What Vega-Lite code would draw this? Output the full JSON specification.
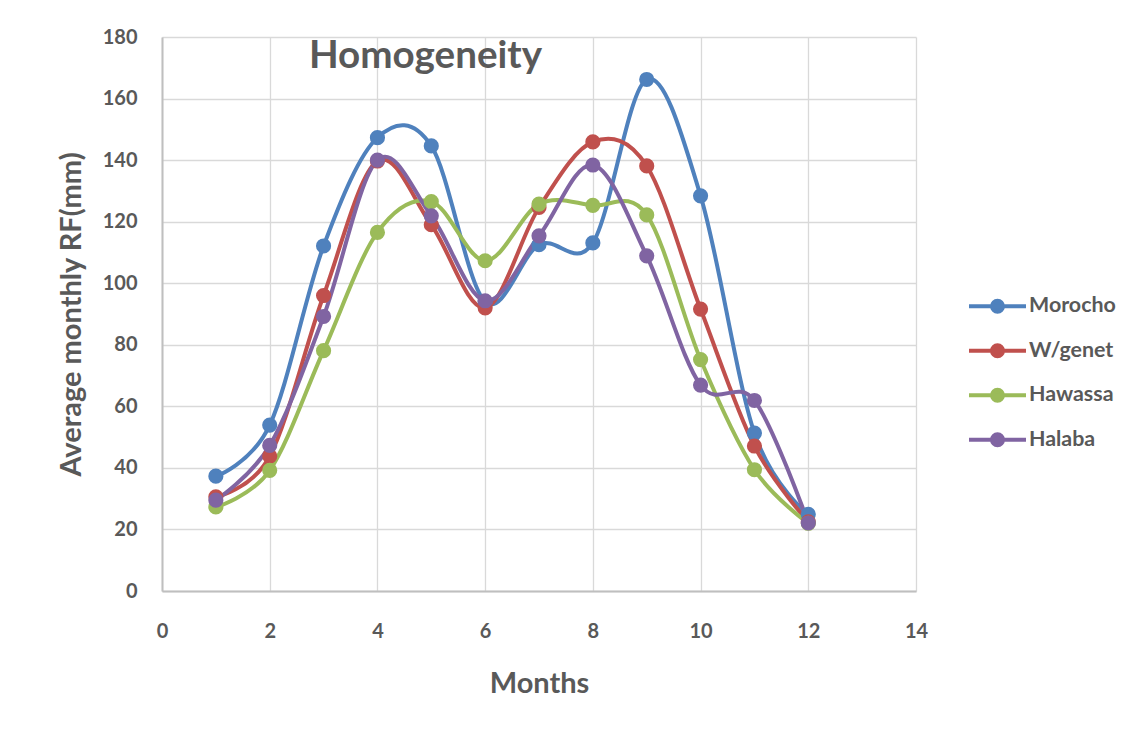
{
  "$schema": "https://vega.github.io/schema/vega-lite/v6.json",
  "width": 754,
  "height": 554,
  "autosize": {"type": "none"},
  "padding": {"left": 162, "top": 37, "right": 227, "bottom": 140},
  "background": "white",
  "title": {
    "text": "Homogeneity",
    "font": "Lato",
    "fontSize": 38.6,
    "fontWeight": "bold",
    "color": "#595959",
    "anchor": "middle",
    "dx": -113.5,
    "baseline": "alphabetic",
    "offset": -80
  },
  "data": {
    "values": [
      {"month": 1, "station": "Morocho", "rf": 37.3},
      {"month": 2, "station": "Morocho", "rf": 53.9},
      {"month": 3, "station": "Morocho", "rf": 112.1},
      {"month": 4, "station": "Morocho", "rf": 147.3},
      {"month": 5, "station": "Morocho", "rf": 144.6},
      {"month": 6, "station": "Morocho", "rf": 94.0},
      {"month": 7, "station": "Morocho", "rf": 112.5},
      {"month": 8, "station": "Morocho", "rf": 113.1},
      {"month": 9, "station": "Morocho", "rf": 166.2},
      {"month": 10, "station": "Morocho", "rf": 128.4},
      {"month": 11, "station": "Morocho", "rf": 51.3},
      {"month": 12, "station": "Morocho", "rf": 24.9},
      {"month": 1, "station": "W/genet", "rf": 30.6},
      {"month": 2, "station": "W/genet", "rf": 43.8},
      {"month": 3, "station": "W/genet", "rf": 96.0},
      {"month": 4, "station": "W/genet", "rf": 139.7},
      {"month": 5, "station": "W/genet", "rf": 119.0},
      {"month": 6, "station": "W/genet", "rf": 92.0},
      {"month": 7, "station": "W/genet", "rf": 124.6},
      {"month": 8, "station": "W/genet", "rf": 145.9},
      {"month": 9, "station": "W/genet", "rf": 138.1},
      {"month": 10, "station": "W/genet", "rf": 91.6},
      {"month": 11, "station": "W/genet", "rf": 47.1},
      {"month": 12, "station": "W/genet", "rf": 22.5},
      {"month": 1, "station": "Hawassa", "rf": 27.3},
      {"month": 2, "station": "Hawassa", "rf": 39.2},
      {"month": 3, "station": "Hawassa", "rf": 78.1},
      {"month": 4, "station": "Hawassa", "rf": 116.5},
      {"month": 5, "station": "Hawassa", "rf": 126.5},
      {"month": 6, "station": "Hawassa", "rf": 107.3},
      {"month": 7, "station": "Hawassa", "rf": 125.7},
      {"month": 8, "station": "Hawassa", "rf": 125.3},
      {"month": 9, "station": "Hawassa", "rf": 122.2},
      {"month": 10, "station": "Hawassa", "rf": 75.2},
      {"month": 11, "station": "Hawassa", "rf": 39.4},
      {"month": 12, "station": "Hawassa", "rf": 22.0},
      {"month": 1, "station": "Halaba", "rf": 29.5},
      {"month": 2, "station": "Halaba", "rf": 47.3},
      {"month": 3, "station": "Halaba", "rf": 89.2},
      {"month": 4, "station": "Halaba", "rf": 140.0},
      {"month": 5, "station": "Halaba", "rf": 121.9},
      {"month": 6, "station": "Halaba", "rf": 94.3},
      {"month": 7, "station": "Halaba", "rf": 115.4},
      {"month": 8, "station": "Halaba", "rf": 138.4},
      {"month": 9, "station": "Halaba", "rf": 108.9},
      {"month": 10, "station": "Halaba", "rf": 66.9},
      {"month": 11, "station": "Halaba", "rf": 61.9},
      {"month": 12, "station": "Halaba", "rf": 22.1}
    ]
  },
  "encoding": {
    "x": {
      "field": "month",
      "type": "quantitative",
      "title": "Months",
      "scale": {"domain": [0, 14], "nice": false, "zero": false},
      "axis": {"values": [0, 2, 4, 6, 8, 10, 12, 14], "labelFlush": false, "labelPadding": 30, "titlePadding": 28}
    },
    "y": {
      "field": "rf",
      "type": "quantitative",
      "title": "Average monthly RF(mm)",
      "scale": {"domain": [0, 180], "nice": false},
      "axis": {"values": [0, 20, 40, 60, 80, 100, 120, 140, 160, 180], "labelFlush": false, "labelPadding": 25, "titlePadding": 16}
    },
    "color": {
      "field": "station",
      "type": "nominal",
      "sort": null,
      "scale": {
        "domain": ["Morocho", "W/genet", "Hawassa", "Halaba"],
        "range": ["#4F81BD", "#C0504D", "#9BBB59", "#8064A2"]
      },
      "legend": {
        "title": null,
        "orient": "none",
        "legendX": 819,
        "legendY": 252.75,
        "padding": 0,
        "symbolType": "M-2,0L2,0M0.386,0A0.386,0.386,0,1,1,-0.386,0A0.386,0.386,0,1,1,0.386,0Z",
        "symbolSize": 812,
        "symbolStrokeWidth": 4,
        "labelOffset": 15,
        "rowPadding": 14.5,
        "labelFont": "Lato",
        "labelFontSize": 21.4,
        "labelFontWeight": "bold",
        "labelColor": "#595959",
        "encode": {
          "symbols": {
            "update": {
              "fill": {"scale": "color", "field": "value"},
              "stroke": {"scale": "color", "field": "value"},
              "opacity": {"value": 1}
            }
          }
        }
      }
    }
  },
  "layer": [
    {
      "mark": {"type": "line", "interpolate": "cardinal", "strokeWidth": 4}
    },
    {
      "mark": {"type": "point", "filled": true, "size": 230, "opacity": 1}
    }
  ],
  "config": {
    "view": {"stroke": null},
    "axis": {
      "domainColor": "#BFBFBF",
      "domainWidth": 2,
      "gridColor": "#D9D9D9",
      "gridWidth": 1.3,
      "ticks": false,
      "labelFont": "Lato",
      "labelFontSize": 20,
      "labelFontWeight": "bold",
      "labelColor": "#595959",
      "titleFont": "Lato",
      "titleFontSize": 29,
      "titleFontWeight": "bold",
      "titleColor": "#595959"
    }
  }
}
